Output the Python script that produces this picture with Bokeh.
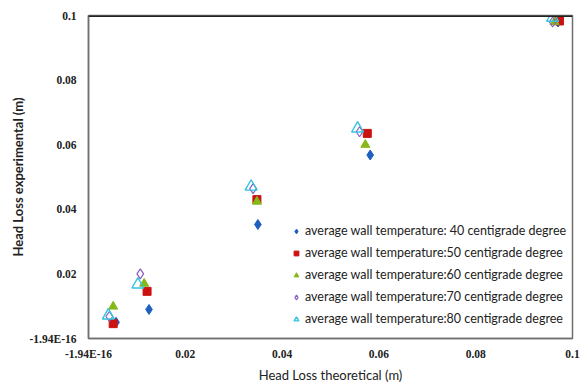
from bokeh.plotting import figure
from bokeh.models import Range1d, FixedTicker, Span, Legend, LegendItem, Title
from bokeh.embed import file_html
from bokeh.resources import INLINE

# Head loss, theoretical vs experimental (m), per average wall temperature
theo_40 = [0.0057, 0.0125, 0.0350, 0.0582, 0.0970]
exp_40 = [0.0050, 0.0090, 0.0353, 0.0568, 0.0980]
theo_50 = [0.0051, 0.0121, 0.0348, 0.0576, 0.0973]
exp_50 = [0.0046, 0.0146, 0.0430, 0.0635, 0.0983]
theo_60 = [0.0051, 0.0115, 0.0348, 0.0572, 0.0963]
exp_60 = [0.0099, 0.0170, 0.0424, 0.0600, 0.0980]
theo_70 = [0.0043, 0.0107, 0.0340, 0.0560, 0.0959]
exp_70 = [0.0068, 0.0200, 0.0464, 0.0640, 0.0980]
theo_80 = [0.0041, 0.0102, 0.0336, 0.0556, 0.0959]
exp_80 = [0.0071, 0.0167, 0.0470, 0.0650, 0.0993]

tick_values = [0.0, 0.02, 0.04, 0.06, 0.08, 0.1]
x_tick_labels = ["-1.94E-16", "0.02", "0.04", "0.06", "0.08", "0.1"]
y_tick_labels = ["-1.94E-16", "0.02", "0.04", "0.06", "0.08", "0.1"]

legend_labels = [
    "average wall temperature: 40 centigrade degree",
    "average wall temperature:50 centigrade degree",
    "average wall temperature:60 centigrade degree",
    "average wall temperature:70 centigrade degree",
    "average wall temperature:80 centigrade degree",
]

p = figure(width=584, height=385, output_backend="svg", toolbar_location=None,
           x_range=Range1d(0, 0.1), y_range=Range1d(0, 0.1),
           min_border_left=88, min_border_right=12, min_border_top=15,
           min_border_bottom=0)
p.xgrid.visible = False
p.ygrid.visible = False
p.outline_line_color = "#707070"
p.outline_line_width = 1.5
p.background_fill_color = "white"
p.border_fill_color = "white"

for ax in (p.xaxis[0], p.yaxis[0]):
    ax.ticker = FixedTicker(ticks=tick_values)
    ax.major_tick_line_color = None
    ax.minor_tick_line_color = None
    ax.major_tick_out = 0
    ax.major_tick_in = 0
    ax.minor_tick_out = 0
    ax.axis_line_color = "#707070"
    ax.axis_line_width = 1.5
    ax.major_label_text_font = "Liberation Serif"
    ax.major_label_text_font_style = "bold"
    ax.major_label_text_font_size = "11.5px"
    ax.major_label_text_color = "#222222"

p.xaxis[0].major_label_overrides = {v: s for v, s in zip(tick_values, x_tick_labels)}
p.yaxis[0].major_label_overrides = {v: s for v, s in zip(tick_values, y_tick_labels)}
p.xaxis[0].major_label_standoff = 9
p.yaxis[0].major_label_standoff = 12

p.xaxis[0].axis_label = "Head Loss theoretical (m)"
p.xaxis[0].axis_label_text_font = "Lato"
p.xaxis[0].axis_label_text_font_style = "normal"
p.xaxis[0].axis_label_text_font_size = "13px"
p.xaxis[0].axis_label_text_color = "#222222"
p.xaxis[0].axis_label_standoff = 4

# y-axis caption as a side title so it sits close to the page edge
ytitle = Title(text="Head Loss experimental (m)", align="center",
               text_font="Lato", text_font_style="bold", text_font_size="13px",
               text_color="#222222", offset=0, standoff=2)
p.add_layout(ytitle, "left")

# heavy top border line
p.add_layout(Span(location=0.1, dimension="width", line_color="#222222", line_width=3))

r40 = p.scatter(theo_40, exp_40, marker="diamond", size=10, fill_color="#1f5fbf",
                line_color="#1f5fbf")
r50 = p.scatter(theo_50, exp_50, marker="square", size=8, fill_color="#cc1111",
                line_color="#cc1111")
r60 = p.scatter(theo_60, exp_60, marker="triangle", size=9, fill_color="#86b817",
                line_color="#86b817")
r70 = p.scatter(theo_70, exp_70, marker="diamond", size=10, fill_color=None,
                line_color="#8a5cc0", line_width=1.2)
r80 = p.scatter(theo_80, exp_80, marker="triangle", size=12, fill_color=None,
                line_color="#33c3e0", line_width=1.4)

legend = Legend(items=[LegendItem(label=lab, renderers=[r]) for lab, r in
                       zip(legend_labels, [r40, r50, r60, r70, r80])],
                location=(202, 12))
legend.border_line_color = None
legend.background_fill_alpha = 0
legend.label_text_font = "Lato"
legend.label_text_font_size = "12.5px"
legend.label_text_color = "#222222"
legend.glyph_width = 12
legend.glyph_height = 12
legend.spacing = 7
legend.label_standoff = 3
legend.margin = 0
legend.padding = 2
p.add_layout(legend)

open("out.html", "w").write(file_html(p, INLINE))
